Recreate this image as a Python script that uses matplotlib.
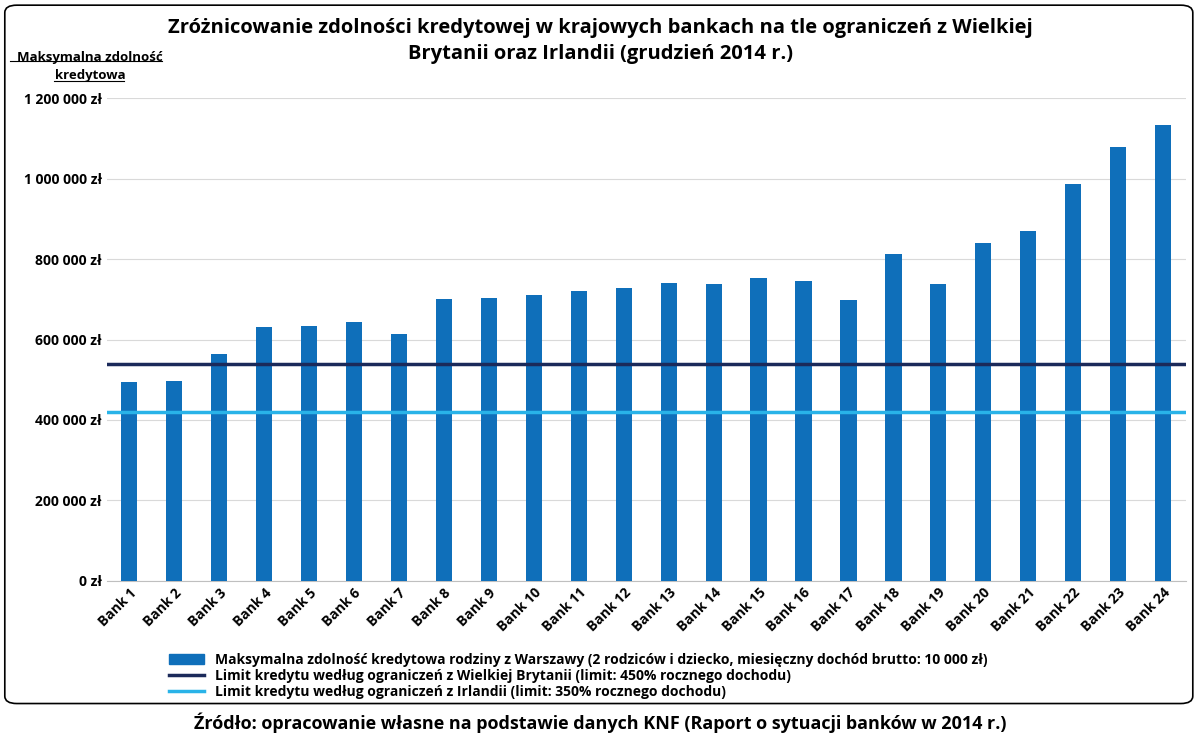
import matplotlib
matplotlib.use("Agg")
import matplotlib.pyplot as plt
from matplotlib.patches import FancyBboxPatch
from matplotlib.lines import Line2D
from matplotlib.patches import Patch

banks = [f"Bank {i}" for i in range(1, 25)]
values = [495000, 497000, 564000, 631000, 633000, 643000, 614000, 700000, 703000, 711000,
          720000, 728000, 740000, 738000, 753000, 745000, 698000, 812000, 738000, 840000,
          870000, 986000, 1078000, 1133000]
uk_limit = 540000
ie_limit = 420000
yticks = [0, 200000, 400000, 600000, 800000, 1000000, 1200000]

plt.rcParams["font.family"] = "Open Sans"
fig = plt.figure(figsize=(12, 7.39), dpi=100)
fig.patches.append(FancyBboxPatch((0.004, 0.048), 0.99, 0.945, boxstyle="round,pad=0,rounding_size=0.01",
                                  transform=fig.transFigure, fill=False, edgecolor="black", lw=1.2))
ax = fig.add_axes([0.089, 0.214, 0.899, 0.653])
x = list(range(len(banks)))
ax.bar(x, values, width=0.36, color="#0F6FBA", zorder=3)
ax.plot([-0.5, len(banks) - 0.5], [uk_limit] * 2, color="#1B2A5A", lw=2.5, zorder=4)
ax.plot([-0.5, len(banks) - 0.5], [ie_limit] * 2, color="#29B3E8", lw=2.5, zorder=4)
ax.set_xlim(-0.5, len(banks) - 0.5)
ax.set_ylim(0, 1200000)
ax.set_yticks(yticks)
ax.set_yticklabels([f"{v:,}".replace(",", " ") + " zł" for v in yticks], fontsize=10, fontweight="bold")
ax.set_xticks(x)
ax.set_xticklabels(banks, rotation=45, ha="right", rotation_mode="anchor", fontsize=10, fontweight="bold")
ax.grid(axis="y", color="#D9D9D9", lw=0.8, zorder=0)
for s in ["top", "right", "left"]:
    ax.spines[s].set_visible(False)
ax.spines["bottom"].set_color("#BFBFBF")
ax.tick_params(length=0)
fig.text(0.5, 0.975, "Zróżnicowanie zdolności kredytowej w krajowych bankach na tle ograniczeń z Wielkiej\nBrytanii oraz Irlandii (grudzień 2014 r.)",
         ha="center", va="top", fontsize=14.5, fontweight="bold", linespacing=1.4)
fig.text(0.075, 0.91, "Maksymalna zdolność\nkredytowa", ha="center", va="center", fontsize=9.5,
         fontweight="bold", linespacing=1.5)
fig.add_artist(Line2D([0.008, 0.135], [0.917, 0.917], color="black", lw=0.8))
fig.add_artist(Line2D([0.045, 0.103], [0.89, 0.89], color="black", lw=0.8))
handles = [Patch(color="#0F6FBA"),
           Line2D([], [], color="#1B2A5A", lw=2.5),
           Line2D([], [], color="#29B3E8", lw=2.5)]
labels = ["Maksymalna zdolność kredytowa rodziny z Warszawy (2 rodziców i dziecko, miesięczny dochód brutto: 10 000 zł)",
          "Limit kredytu według ograniczeń z Wielkiej Brytanii (limit: 450% rocznego dochodu)",
          "Limit kredytu według ograniczeń z Irlandii (limit: 350% rocznego dochodu)"]
leg = fig.legend(handles, labels, loc="center left", bbox_to_anchor=(0.135, 0.085), frameon=False,
                 prop={"size": 10, "weight": "bold"}, handlelength=2.5, labelspacing=0.15, borderpad=0)
fig.text(0.5, 0.022, "Źródło: opracowanie własne na podstawie danych KNF (Raport o sytuacji banków w 2014 r.)",
         ha="center", va="center", fontsize=13, fontweight="bold")
fig.savefig("out.png", dpi=100)
